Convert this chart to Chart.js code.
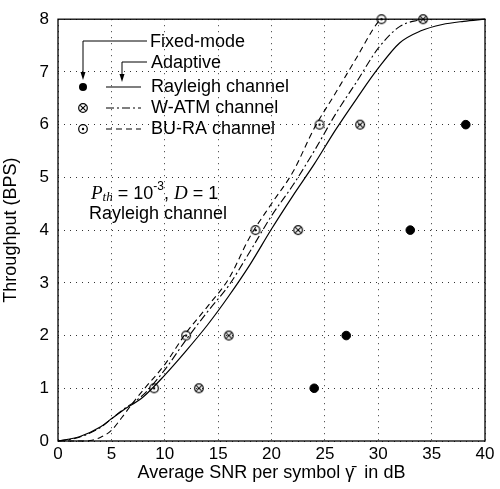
<!DOCTYPE html>
<html>
<head>
<meta charset="utf-8">
<script src="https://cdn.jsdelivr.net/npm/chart.js@4.4.1/dist/chart.umd.min.js"></script>
<style>
  html, body { margin: 0; padding: 0; background: #fff; }
  #wrap { width: 500px; height: 489px; }
</style>
</head>
<body>
<div id="wrap"><canvas id="grafico" width="500" height="489"></canvas></div>
<script>
// curvas adaptativas (linhas)
const snrRayleigh = [0, 2, 4, 5, 6, 8, 10, 12, 14, 16, 18, 20, 22, 24, 26, 28, 30, 32, 34, 36, 38, 40];
const thrRayleigh = [0, 0.08, 0.27, 0.42, 0.57, 0.84, 1.25, 1.71, 2.2, 2.75, 3.35, 4.02, 4.65, 5.25, 5.9, 6.5, 7.07, 7.55, 7.78, 7.9, 7.96, 8.0];

const snrWatm = [0, 2, 4, 5, 6, 8, 10, 12, 14, 16, 18, 20, 22, 24, 26, 28, 30, 32, 34];
const thrWatm = [0, 0.07, 0.26, 0.42, 0.58, 0.88, 1.35, 1.92, 2.45, 2.95, 3.6, 4.27, 4.85, 5.5, 6.2, 6.82, 7.45, 7.86, 8.0];

const snrBura = [0, 2, 3, 4, 5, 6, 7, 8, 10, 12, 14, 16, 18, 20, 22, 24, 26, 28, 30, 30.3];
const thrBura = [0, 0, 0.01, 0.07, 0.2, 0.45, 0.72, 0.97, 1.45, 2.05, 2.55, 3.08, 3.88, 4.5, 5.1, 5.93, 6.6, 7.28, 7.95, 8.0];

// pontos fixed-mode
const snrFixRayleigh = [24, 27, 33, 38.2];
const thrFixRayleigh = [1, 2, 4, 6];
const snrFixWatm = [13.2, 16, 22.5, 28.3, 34.2];
const thrFixWatm = [1, 2, 4, 6, 8];
const snrFixBura = [9, 12, 18.5, 24.5, 30.3];
const thrFixBura = [1, 2, 4, 6, 8];

const xTicks = [0, 5, 10, 15, 20, 25, 30, 35, 40];
const yTicks = [0, 1, 2, 3, 4, 5, 6, 7, 8];

const fonte = '"Liberation Sans", Arial, sans-serif';

function juntar(xs, ys) {
  let pts = [];
  for (let i = 0; i < xs.length; i++) {
    pts.push({ x: xs[i], y: ys[i] });
  }
  return pts;
}

// marcadores ⊗ e ⊙
function criarMarcador(tipo) {
  const c = document.createElement('canvas');
  c.width = 12; c.height = 12;
  const g = c.getContext('2d');
  g.strokeStyle = '#000';
  g.lineWidth = 1.2;
  g.beginPath();
  g.arc(6, 6, 4.3, 0, 2 * Math.PI);
  g.stroke();
  if (tipo == 'x') {
    g.lineWidth = 1.1;
    g.beginPath();
    g.moveTo(3.3, 3.3); g.lineTo(8.7, 8.7);
    g.moveTo(8.7, 3.3); g.lineTo(3.3, 8.7);
    g.stroke();
  } else {
    g.beginPath();
    g.arc(6, 6, 1.2, 0, 2 * Math.PI);
    g.fillStyle = '#000';
    g.fill();
  }
  return c;
}
const marcaX = criarMarcador('x');
const marcaPonto = criarMarcador('o');

const legendaPlugin = {
  id: 'legendaPlugin',
  afterDatasetsDraw(chart) {
    const ctx = chart.ctx;
    const a = chart.chartArea;
    ctx.save();
    // moldura
    ctx.strokeStyle = '#000';
    ctx.lineWidth = 1.3;
    ctx.strokeRect(a.left, a.top, a.right - a.left, a.bottom - a.top);

    ctx.font = '18px ' + fonte;
    ctx.fillStyle = '#000';
    ctx.textBaseline = 'middle';
    ctx.textAlign = 'left';
    ctx.fillText('Fixed-mode', 150, 42);
    ctx.fillText('Adaptive', 151, 63);
    ctx.fillText('Rayleigh channel', 151, 87);
    ctx.fillText('W-ATM channel', 151, 108);
    ctx.fillText('BU-RA channel', 151, 129);

    // setas
    ctx.lineWidth = 1;
    ctx.beginPath();
    ctx.moveTo(147, 41); ctx.lineTo(83, 41); ctx.lineTo(83, 76);
    ctx.moveTo(147, 62); ctx.lineTo(122, 62); ctx.lineTo(122, 78);
    ctx.stroke();
    ctx.beginPath();
    ctx.moveTo(80.5, 72); ctx.lineTo(85.5, 72); ctx.lineTo(83, 80); ctx.closePath();
    ctx.moveTo(119.5, 74); ctx.lineTo(124.5, 74); ctx.lineTo(122, 82); ctx.closePath();
    ctx.fill();

    // marcadores da legenda
    ctx.beginPath();
    ctx.arc(83, 87, 4, 0, 2 * Math.PI);
    ctx.fill();
    ctx.drawImage(marcaX, 77, 102);
    ctx.drawImage(marcaPonto, 77, 123);

    // amostras de linha
    ctx.lineWidth = 1.1;
    const amostras = [[87, []], [108, [8, 3, 2, 3]], [129, [6, 4]]];
    for (let i = 0; i < amostras.length; i++) {
      ctx.setLineDash(amostras[i][1]);
      ctx.beginPath();
      ctx.moveTo(106, amostras[i][0]);
      ctx.lineTo(141, amostras[i][0]);
      ctx.stroke();
    }
    ctx.setLineDash([]);

    // anotação
    ctx.font = 'italic 19px "Liberation Serif", "Times New Roman", serif';
    let x = 91;
    const yb = 194;
    ctx.fillText('P', x, yb);
    x += ctx.measureText('P').width;
    ctx.font = 'italic 13px "Liberation Serif", serif';
    ctx.fillText('th', x, yb + 4);
    x += ctx.measureText('th').width + 5;
    ctx.font = '18px ' + fonte;
    ctx.fillText('= 10', x, yb);
    x += ctx.measureText('= 10').width;
    ctx.font = '12px ' + fonte;
    ctx.fillText('-3', x, yb - 7);
    x += ctx.measureText('-3').width;
    ctx.font = '18px ' + fonte;
    ctx.fillText(', ', x, yb);
    x += ctx.measureText(', ').width;
    ctx.font = 'italic 19px "Liberation Serif", serif';
    ctx.fillText('D', x, yb);
    x += ctx.measureText('D').width + 5;
    ctx.font = '18px ' + fonte;
    ctx.fillText('= 1', x, yb);
    ctx.fillText('Rayleigh channel', 89, 214);
    ctx.restore();
  }
};

let dados = {
  datasets: [
    {
      label: 'Rayleigh channel (adaptive)',
      data: juntar(snrRayleigh, thrRayleigh),
      borderColor: '#000',
      borderWidth: 1.2,
      pointRadius: 0,
      cubicInterpolationMode: 'monotone',
      fill: false
    },
    {
      label: 'W-ATM channel (adaptive)',
      data: juntar(snrWatm, thrWatm),
      borderColor: '#000',
      borderWidth: 1.1,
      borderDash: [8, 3, 2, 3],
      pointRadius: 0,
      cubicInterpolationMode: 'monotone',
      fill: false
    },
    {
      label: 'BU-RA channel (adaptive)',
      data: juntar(snrBura, thrBura),
      borderColor: '#000',
      borderWidth: 1.1,
      borderDash: [6, 4],
      pointRadius: 0,
      cubicInterpolationMode: 'monotone',
      fill: false
    },
    {
      label: 'Rayleigh channel (fixed)',
      data: juntar(snrFixRayleigh, thrFixRayleigh),
      showLine: false,
      pointStyle: 'circle',
      pointRadius: 4.3,
      backgroundColor: '#000',
      borderColor: '#000'
    },
    {
      label: 'W-ATM channel (fixed)',
      data: juntar(snrFixWatm, thrFixWatm),
      showLine: false,
      pointStyle: marcaX,
      pointRadius: 5
    },
    {
      label: 'BU-RA channel (fixed)',
      data: juntar(snrFixBura, thrFixBura),
      showLine: false,
      pointStyle: marcaPonto,
      pointRadius: 5
    }
  ]
};

const config = {
  type: 'line',
  data: dados,
  options: {
    responsive: false,
    animation: false,
    clip: false,
    layout: { padding: { left: 0, top: 14, right: 15, bottom: 0 } },
    plugins: {
      legend: { display: false },
      tooltip: { enabled: false }
    },
    scales: {
      x: {
        type: 'linear',
        min: 0,
        max: 40,
        afterBuildTicks: (s) => { s.ticks = xTicks.map(v => ({ value: v })); },
        afterFit: (s) => { s.height = 48; },
        ticks: { color: '#000', font: { family: fonte, size: 17 }, padding: 3, maxRotation: 0 },
        grid: { color: '#333', lineWidth: 1, drawTicks: false },
        border: { display: false, dash: [1, 5] },
        title: {
          display: true,
          text: 'Average SNR per symbol γ̄  in dB',
          color: '#000',
          font: { family: fonte, size: 18 },
          padding: { top: 0, bottom: 5 }
        }
      },
      y: {
        min: 0,
        max: 8,
        afterBuildTicks: (s) => { s.ticks = yTicks.map(v => ({ value: v })); },
        afterFit: (s) => { s.width = 58; },
        ticks: { color: '#000', font: { family: fonte, size: 17 }, padding: 9 },
        grid: { color: '#333', lineWidth: 1, drawTicks: false },
        border: { display: false, dash: [1, 5] },
        title: {
          display: true,
          text: 'Throughput (BPS)',
          color: '#000',
          font: { family: fonte, size: 18 },
          padding: { top: 0, bottom: 0 }
        }
      }
    }
  },
  plugins: [legendaPlugin]
};

let meuGrafico = new Chart(document.getElementById('grafico'), config);
</script>
</body>
</html>
